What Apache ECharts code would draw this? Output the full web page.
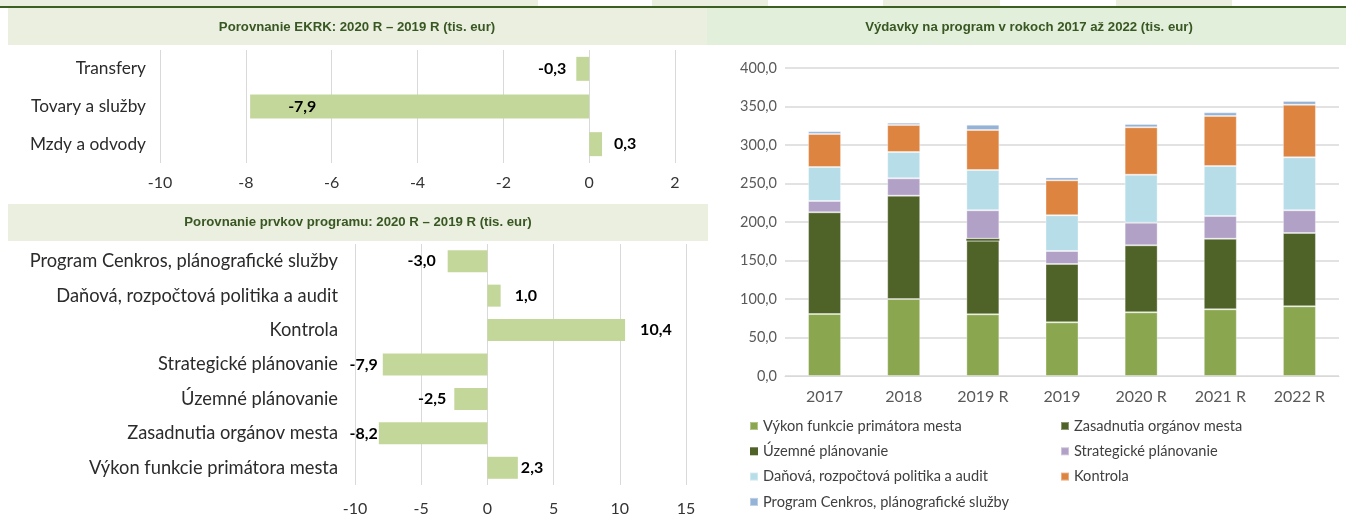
<!DOCTYPE html>
<html lang="sk">
<head>
<meta charset="UTF-8">
<title>Výdavky na program</title>
<script src="https://cdn.jsdelivr.net/npm/echarts@6/dist/echarts.min.js"></script>
<style>
  html, body { margin: 0; padding: 0; background: #fff; }
  #main { width: 1346px; height: 520px; }
</style>
</head>
<body>
<div id="main"></div>
<script>
// --- data ---
var ekrkCats = ['Transfery', 'Tovary a služby', 'Mzdy a odvody'];
var ekrkVals = [-0.3, -7.9, 0.3];

var prvkyCats = ['Program Cenkros, plánografické služby', 'Daňová, rozpočtová politika a audit', 'Kontrola',
  'Strategické plánovanie', 'Územné plánovanie', 'Zasadnutia orgánov mesta', 'Výkon funkcie primátora mesta'];
var prvkyVals = [-3.0, 1.0, 10.4, -7.9, -2.5, -8.2, 2.3];

var years = ['2017', '2018', '2019 R', '2019', '2020 R', '2021 R', '2022 R'];
var vykon      = [80.5, 100.0, 80.1, 69.7, 82.7, 86.6, 90.5];
var zasadnutia = [132.1, 134.2, 95.7, 75.8, 87.0, 91.7, 95.2];
var uzemne     = [0, 0, 2.5, 0, 0, 0, 0];
var strategia  = [14.7, 22.5, 36.9, 16.8, 29.4, 29.5, 29.5];
var danova     = [44.1, 34.2, 52.3, 46.4, 62.3, 64.9, 68.8];
var kontrola   = [42.9, 35.1, 52.0, 45.4, 61.6, 65.0, 68.3];
var cenkros    = [3.5, 3.0, 6.9, 3.8, 4.3, 4.7, 4.8];

var FONT = 'Lato, "Noto Sans", sans-serif';
var TFONT = '"Liberation Sans Narrow", "Liberation Sans", Arial, sans-serif';
var GRID_GREY = '#D9D9D9';

function fmt(v) { return v.toFixed(1).replace('.', ','); }

// label placement per bar (as moved in the source sheet)
var ekrkLabelPos = ['left', 'insideLeft', 'right'];
var ekrkLabelDist = [10, 38, 12];
var prvkyLabelDist = [12, 14, 15, 5, 8, 1, 3];

function diffData(vals, posList, distList) {
  return vals.map(function (v, i) {
    var pos = posList ? posList[i] : (v < 0 ? 'left' : 'right');
    return { value: v, label: { position: pos, distance: distList[i] } };
  });
}

var myChart = echarts.init(document.getElementById('main'));

// header decoration (table borders of the source sheet)
var beigeTop = [[0, 538], [652, 768], [883, 1000], [1116, 1232]];
var tickXs = [136, 538, 652, 707, 768, 1000, 1116, 1232];
var deco = [];
beigeTop.forEach(function (s) {
  deco.push({ type: 'rect', shape: { x: s[0], y: 0, width: s[1] - s[0], height: 6 }, style: { fill: '#EBEFDF' }, silent: true });
});
deco.push({ type: 'rect', shape: { x: 0, y: 6, width: 1346, height: 2 }, style: { fill: '#3E5F22' }, silent: true });
tickXs.forEach(function (x) {
  deco.push({ type: 'rect', shape: { x: x, y: 7, width: 2, height: 2.5 }, style: { fill: '#3E5F22' }, silent: true });
});
deco.push({ type: 'rect', shape: { x: 8, y: 8, width: 699, height: 37 }, style: { fill: '#EBEFDF' }, silent: true });
deco.push({ type: 'rect', shape: { x: 707, y: 8, width: 639, height: 37 }, style: { fill: '#E2EFDA' }, silent: true });
deco.push({ type: 'rect', shape: { x: 8, y: 204, width: 700, height: 37 }, style: { fill: '#EBEFDF' }, silent: true });

var titles = [
  { text: 'Porovnanie EKRK: 2020 R – 2019 R (tis. eur)', x: 357, y: 27 },
  { text: 'Porovnanie prvkov programu: 2020 R – 2019 R (tis. eur)', x: 358, y: 222 },
  { text: 'Výdavky na program v rokoch 2017 až 2022 (tis. eur)', x: 1029, y: 27 }
];
titles.forEach(function (t) {
  deco.push({
    type: 'text', x: t.x, y: t.y, silent: true,
    style: { text: t.text, align: 'center', verticalAlign: 'middle', fill: '#385723',
             font: 'bold 13.2px ' + TFONT }
  });
});

var valueLabel = {
  show: true,
  formatter: function (p) { return fmt(p.value); },
  fontFamily: FONT, fontSize: 16, fontWeight: 'bold', color: '#000'
};

var stackNames = ['Výkon funkcie primátora mesta', 'Zasadnutia orgánov mesta', 'Územné plánovanie',
  'Strategické plánovanie', 'Daňová, rozpočtová politika a audit', 'Kontrola', 'Program Cenkros, plánografické služby'];
var stackData = [vykon, zasadnutia, uzemne, strategia, danova, kontrola, cenkros];
var stackColors = ['#8AA64E', '#4F6228', '#4F6228', '#B2A1C7', '#B7DDE8', '#DE8441', '#95B3D7'];

var stackSeries = stackNames.map(function (name, i) {
  return {
    name: name,
    type: 'bar',
    stack: 'total',
    xAxisIndex: 2,
    yAxisIndex: 2,
    barWidth: 33,
    data: stackData[i],
    itemStyle: {
      color: stackColors[i],
      borderColor: i === 2 ? stackColors[i] : 'rgba(255,255,255,0.35)',
      borderWidth: i === 2 ? 0 : 1
    }
  };
});

var legendText = { fontFamily: FONT, fontSize: 14.6, color: '#404040', lineHeight: 16 };

var option = {
  animation: false,
  textStyle: { fontFamily: FONT },
  graphic: { elements: deco },
  grid: [
    { left: 160, top: 50, width: 515, height: 113 },
    { left: 355, top: 244, width: 331, height: 241 },
    { left: 785, top: 68, width: 554, height: 308 }
  ],
  xAxis: [
    {
      gridIndex: 0, type: 'value', min: -10, max: 2, interval: 2,
      axisLine: { show: false }, axisTick: { show: false },
      splitLine: { lineStyle: { color: GRID_GREY } },
      axisLabel: { fontFamily: FONT, fontSize: 16, color: '#333', margin: 12 }
    },
    {
      gridIndex: 1, type: 'value', min: -10, max: 15, interval: 5,
      axisLine: { show: false }, axisTick: { show: false },
      splitLine: { lineStyle: { color: GRID_GREY } },
      axisLabel: { fontFamily: FONT, fontSize: 16, color: '#333', margin: 16 }
    },
    {
      gridIndex: 2, type: 'category', data: years,
      axisLine: { lineStyle: { color: GRID_GREY } }, axisTick: { show: false },
      axisLabel: { fontFamily: FONT, fontSize: 16, color: '#595959', margin: 13 }
    }
  ],
  yAxis: [
    {
      gridIndex: 0, type: 'category', data: ekrkCats, inverse: true,
      axisLine: { show: false, onZero: false }, axisTick: { show: false },
      axisLabel: { fontFamily: FONT, fontSize: 17.3, color: '#2b2b2b', margin: 14 }
    },
    {
      gridIndex: 1, type: 'category', data: prvkyCats, inverse: true,
      axisLine: { show: false, onZero: false }, axisTick: { show: false },
      axisLabel: { fontFamily: FONT, fontSize: 18.3, color: '#2b2b2b', margin: 17 }
    },
    {
      gridIndex: 2, type: 'value', min: 0, max: 400, interval: 50,
      axisLine: { show: false }, axisTick: { show: false },
      splitLine: { lineStyle: { color: GRID_GREY, width: 1.5 } },
      axisLabel: { fontFamily: FONT, fontSize: 14.5, color: '#595959', margin: 8, formatter: fmt }
    }
  ],
  legend: [
    {
      left: 744, top: 413, orient: 'vertical', icon: 'rect', selectedMode: false,
      itemWidth: 8, itemHeight: 8, itemGap: 9.3, textStyle: legendText,
      data: [stackNames[0], stackNames[2], stackNames[4], stackNames[6]]
    },
    {
      left: 1055, top: 413, orient: 'vertical', icon: 'rect', selectedMode: false,
      itemWidth: 8, itemHeight: 8, itemGap: 9.3, textStyle: legendText,
      data: [stackNames[1], stackNames[3], stackNames[5]]
    }
  ],
  series: [
    {
      name: 'EKRK', type: 'bar', xAxisIndex: 0, yAxisIndex: 0, barWidth: 24,
      itemStyle: { color: '#C4D79B' },
      label: valueLabel,
      data: diffData(ekrkVals, ekrkLabelPos, ekrkLabelDist)
    },
    {
      name: 'Prvky', type: 'bar', xAxisIndex: 1, yAxisIndex: 1, barWidth: 22,
      itemStyle: { color: '#C4D79B' },
      label: valueLabel,
      data: diffData(prvkyVals, null, prvkyLabelDist)
    }
  ].concat(stackSeries)
};

myChart.setOption(option);
</script>
</body>
</html>
